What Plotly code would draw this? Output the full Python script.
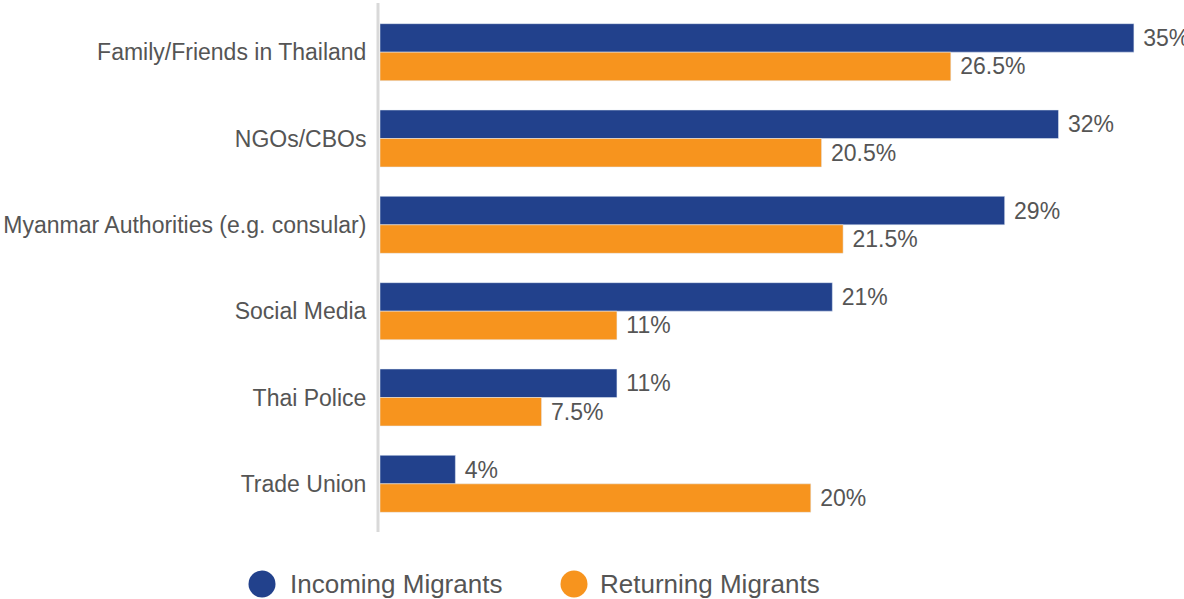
import plotly.graph_objects as go

categories = ["Family/Friends in Thailand", "NGOs/CBOs", "Myanmar Authorities (e.g. consular)",
              "Social Media", "Thai Police", "Trade Union"]
incoming = [35, 31.5, 29, 21, 11, 3.5]
incoming_labels = ["35%", "32%", "29%", "21%", "11%", "4%"]
returning = [26.5, 20.5, 21.5, 11, 7.5, 20]
returning_labels = ["26.5%", "20.5%", "21.5%", "11%", "7.5%", "20%"]
series_names = ["Incoming Migrants", "Returning Migrants"]

NAVY = "#22418C"
ORANGE = "#F7941E"
TEXT = "#555555"
FONT = "Liberation Sans, Arial, sans-serif"
FS = 23
LFS = 26

W, H = 1184, 599
ML, MR, MT, MB = 380, 0, 9, 72
PW = W - ML - MR
PH = H - MT - MB

def pad(labels):
    return ["\u00a0" + t for t in labels]

fig = go.Figure()
fig.add_trace(go.Bar(y=categories, x=incoming, orientation="h", name=series_names[0],
                     marker_color=NAVY, text=pad(incoming_labels), textposition="outside",
                     cliponaxis=False, constraintext="none",
                     textfont=dict(color=TEXT, size=FS, family=FONT), showlegend=False))
fig.add_trace(go.Bar(y=categories, x=returning, orientation="h", name=series_names[1],
                     marker_color=ORANGE, text=pad(returning_labels), textposition="outside",
                     cliponaxis=False, constraintext="none",
                     textfont=dict(color=TEXT, size=FS, family=FONT), showlegend=False))

def px_x(px):
    return (px - ML) / PW

def px_y(py):
    return (H - MB - py) / PH

shapes = [
    dict(type="line", xref="paper", yref="paper", x0=px_x(378), x1=px_x(378),
         y0=px_y(532), y1=px_y(3), line=dict(color="#d9d9d9", width=3)),
]
annotations = []
legend_items = [(262, 288, NAVY, series_names[0]), (574, 598, ORANGE, series_names[1])]
for cx, tx, col, name in legend_items:
    r = 13.5
    cy = 584
    shapes.append(dict(type="circle", xref="paper", yref="paper",
                       x0=px_x(cx - r), x1=px_x(cx + r), y0=px_y(cy + r), y1=px_y(cy - r),
                       fillcolor=col, line=dict(width=0)))
    annotations.append(dict(xref="paper", yref="paper", x=px_x(tx), y=px_y(cy),
                            xanchor="left", yanchor="middle", text=name, showarrow=False,
                            font=dict(color=TEXT, size=LFS, family=FONT)))

fig.update_layout(
    width=W, height=H,
    margin=dict(l=ML, r=MR, t=MT, b=MB),
    paper_bgcolor="white", plot_bgcolor="white",
    barmode="group", bargap=0.34, bargroupgap=0,
    font=dict(family=FONT, color=TEXT, size=FS),
    xaxis=dict(range=[0, PW / 21.54], visible=False, showgrid=False, zeroline=False),
    yaxis=dict(autorange="reversed", showgrid=False, zeroline=False, showline=False,
               ticks="outside", ticklen=8, tickcolor="rgba(0,0,0,0)",
               tickfont=dict(color=TEXT, size=FS, family=FONT)),
    shapes=shapes, annotations=annotations, showlegend=False,
)

fig.write_html("out.html", config={"displayModeBar": False},
               post_script="document.body.style.margin='0';document.body.style.overflow='hidden';")
